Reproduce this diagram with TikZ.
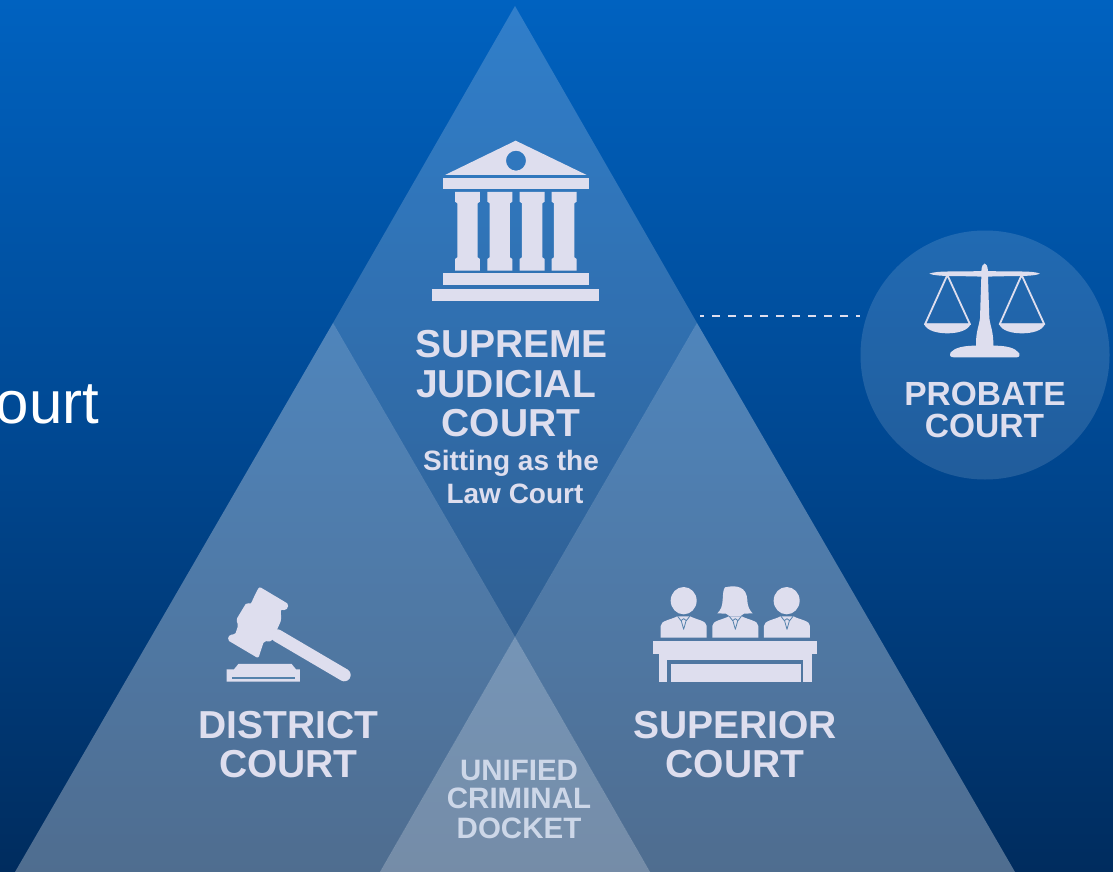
\documentclass[tikz,border=0pt]{standalone}
\usepackage{fontspec}
\setmainfont{Liberation Sans}
\definecolor{ink}{RGB}{222,222,238}
\definecolor{inkdim}{RGB}{205,215,232}
\definecolor{bgtop}{RGB}{0,98,192}
\definecolor{bgmid}{RGB}{0,72,146}
\definecolor{bgbot}{RGB}{0,44,94}
\definecolor{slot}{RGB}{85,130,172}
\tikzset{
  panel/.style={fill=white,draw=none},
  icon/.style={fill=ink,draw=none},
  label/.style={text=ink,anchor=base,inner sep=0pt,font=\bfseries\fontsize{39}{39}\selectfont},
  smalllabel/.style={label,font=\bfseries\fontsize{28}{28}\selectfont},
  midlabel/.style={label,font=\bfseries\fontsize{33.5}{34}\selectfont},
  docketlabel/.style={label,text=inkdim,font=\bfseries\fontsize{29.5}{30}\selectfont},
  link/.style={draw=ink,line width=2pt,dash pattern=on 8pt off 8pt,dash phase=4pt},
  zoomA/.style={shift={(400,120)},x=0.3333pt,y=-0.3333pt},
  zoomB/.style={shift={(850,225)},x=0.3333pt,y=-0.3333pt},
  zoomC/.style={shift={(190,570)},x=0.3333pt,y=-0.3333pt},
  zoomD/.style={shift={(630,570)},x=0.3333pt,y=-0.3333pt},
}
\newcommand{\colm}[1]{%
  \begin{scope}[shift={(#1,0)}]
  \fill[icon] (165,216) -- (240,216) -- (240,245) -- (233,250) -- (233,412) -- (240,417) -- (240,452) -- (165,452) -- (165,417) -- (172,412) -- (172,250) -- (165,245) -- cycle;
  \end{scope}}
\newcommand{\juror}[1]{%
  \begin{scope}[shift={(#1,0)}]
  \fill[icon] (92,203) -- (92,168) .. controls (92,152) and (120,150) .. (142,139) -- (180,139) .. controls (202,150) and (230,152) .. (230,168) -- (230,203) -- cycle;
  \draw[slot,line width=.8pt,line join=round] (143,139) -- (153,152) -- (161,146) -- (169,152) -- (179,139);
  \draw[slot,line width=.8pt,line join=round] (154,153) -- (161,178) -- (168,153);
  \end{scope}}
\begin{document}
\begin{tikzpicture}[x=1pt,y=-1pt]
\useasboundingbox (0,0) rectangle (1113,872);
\shade[top color=bgtop,bottom color=bgbot,middle color=bgmid] (0,0) rectangle (1113,872);
% panels
\fill[panel,opacity=.19] (515,6) -- (333,323) -- (515,637) -- (697,323) -- cycle;
\fill[panel,opacity=.31] (333,323) -- (15,872) -- (380,872) -- (515,637) -- cycle;
\fill[panel,opacity=.31] (697,323) -- (515,637) -- (650,872) -- (1015,872) -- cycle;
\fill[panel,opacity=.46] (515,637) -- (380,872) -- (650,872) -- cycle;
\fill[panel,opacity=.13] (985,355) circle[radius=124.5];
% connector
\coordinate (dashstart) at (700,316);
\coordinate (dashend) at (860,316);
\draw[link] (dashstart) -- (dashend);
% temple
\begin{scope}[zoomA]
\fill[icon,even odd rule] (347,62) -- (560,165) -- (135,165) -- cycle (348,122) circle[radius=30];
\fill[icon] (129,174) rectangle (568,208);
\colm{0}\colm{97}\colm{194}\colm{290}
\fill[icon] (129,460) rectangle (568,495);
\fill[icon] (97,506) rectangle (598,542);
\end{scope}
% scales
\begin{scope}[zoomB]
\fill[icon] (238,146) .. controls (260,136) and (330,141) .. (394,138) .. controls (396,108) and (412,108) .. (414,138) .. controls (480,141) and (550,136) .. (570,146) .. controls (550,156) and (480,152) .. (414,155) -- (418,280) .. controls (420,300) and (431,320) .. (430,362) .. controls (470,362) and (495,368) .. (508,385) .. controls (510,397) and (505,397) .. (495,397) -- (312,397) .. controls (300,397) and (298,392) .. (302,382) .. controls (315,368) and (340,362) .. (378,362) .. controls (377,320) and (388,300) .. (390,280) -- (394,155) .. controls (330,152) and (260,156) .. (238,146) -- cycle;
\draw[ink,line width=1.8pt,line join=round] (292,150) -- (225,298) -- (360,298) -- cycle;
\draw[ink,line width=1.8pt,line join=round] (515,150) -- (449,298) -- (583,298) -- cycle;
\fill[icon] (222,296) -- (362,296) .. controls (355,318) and (320,325) .. (292,325) .. controls (264,325) and (229,318) .. (222,296) -- cycle;
\fill[icon] (447,296) -- (585,296) .. controls (578,318) and (545,325) .. (516,325) .. controls (487,325) and (454,318) .. (447,296) -- cycle;
\end{scope}
% gavel
\begin{scope}[zoomC]
\fill[icon,rounded corners=2pt] (208,50) -- (297,103) -- (288,122) -- (272,118) -- (274,150) -- (245,215) -- (222,213) -- (205,265) -- (112,210) -- (120,192) -- (135,195) -- (145,165) -- (138,150) -- (170,97) -- (182,103) -- (197,70) -- cycle;
\draw[ink,line width=12.7pt,line cap=round] (262,197) -- (463,315);
\fill[icon] (145,282) -- (305,282) -- (318,298) -- (330,298) -- (330,335) -- (110,335) -- (110,298) -- (132,298) -- cycle;
\fill[slot] (126,321) rectangle (314,328);
\end{scope}
% bench
\begin{scope}[zoomD]
\fill[icon] (161,92) ellipse[x radius=39,y radius=41];
\fill[icon] (470,92) ellipse[x radius=39,y radius=41];
\juror{0}\juror{155}\juror{310}
\fill[icon] (285,52) .. controls (320,44) and (350,50) .. (352,90) .. controls (353,112) and (360,122) .. (368,130) -- (342,131) -- (332,138) -- (298,138) -- (288,131) -- (262,130) .. controls (272,120) and (277,110) .. (278,90) .. controls (279,70) and (280,58) .. (285,52) -- cycle;
\fill[icon] (70,212) rectangle (560,252);
\fill[icon] (88,252) rectangle (110,335);
\fill[icon] (520,252) rectangle (545,335);
\fill[icon] (110,252) rectangle (520,270);
\fill[icon] (122,282) rectangle (512,335);
\end{scope}
% text
\node[anchor=base east,text=white,inner sep=0pt,font=\fontsize{60}{60}\selectfont] (ourt) at (99.5,423) {ourt};
\node[label] (sup1) at (511.5,357) {SUPREME};
\node[label] (sup2) at (506,397) {JUDICIAL};
\node[label] (sup3) at (511,436) {COURT};
\node[smalllabel] (sup4) at (511,470) {Sitting as the};
\node[smalllabel] (sup5) at (515,503) {Law Court};
\node[label] (dis1) at (288.5,738) {DISTRICT};
\node[label] (dis2) at (288.5,777) {COURT};
\node[label] (spr1) at (735,738) {SUPERIOR};
\node[label] (spr2) at (735,777) {COURT};
\node[docketlabel] (doc1) at (519,780) {UNIFIED};
\node[docketlabel] (doc2) at (519,808.5) {CRIMINAL};
\node[docketlabel] (doc3) at (519,838) {DOCKET};
\node[midlabel] (pro1) at (985,405) {PROBATE};
\node[midlabel] (pro2) at (984.5,437.5) {COURT};
\end{tikzpicture}
\end{document}
